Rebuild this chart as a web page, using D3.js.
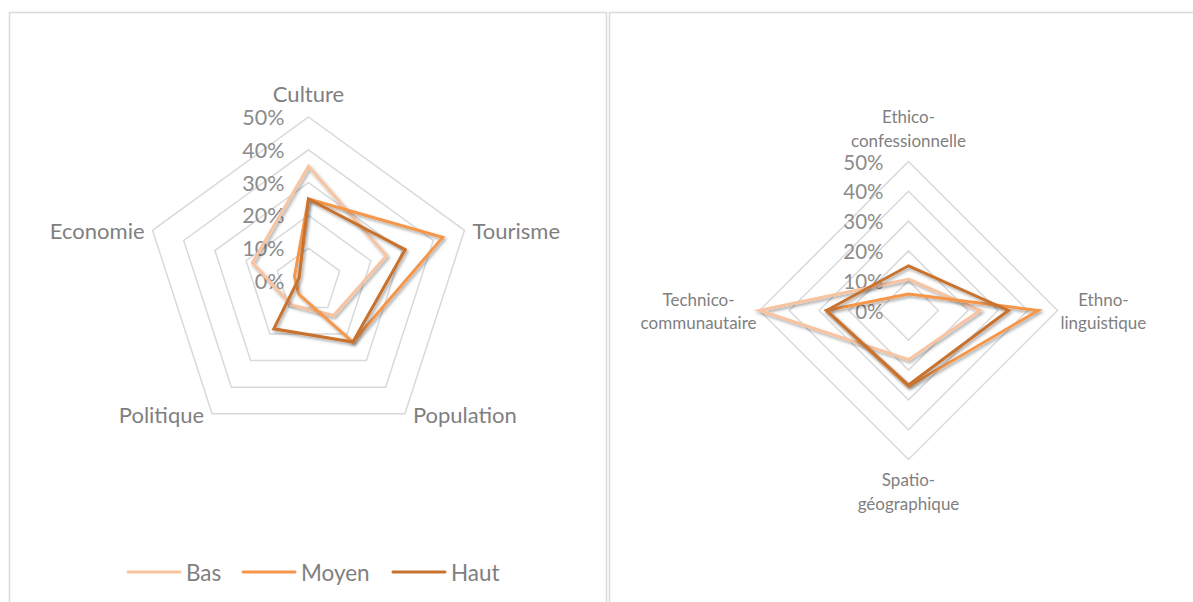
<!DOCTYPE html>
<html>
<head>
<meta charset="utf-8">
<script src="https://cdn.jsdelivr.net/npm/d3@7"></script>
<style>
  body { margin: 0; background: #fff; }
  svg { display: block; font-family: Lato, "Open Sans", sans-serif; }
</style>
</head>
<body>
<svg id="chart" width="1193" height="602"></svg>
<script>
// series names + colours
var levels = ["Bas", "Moyen", "Haut"];
var colors = ["#F8C3A0", "#F5964A", "#C8722F"];
var ticks = [0, 10, 20, 30, 40, 50];

// left radar
var leftAxes = [["Culture"], ["Tourisme"], ["Population"], ["Politique"], ["Economie"]];
var leftBas = [35, 25, 13, 9, 18];
var leftMoyen = [25, 43, 23, 5, 4.5];
var leftHaut = [25, 31, 23, 18, 3];

// right radar
var rightAxes = [["Ethico-", "confessionnelle"], ["Ethno-", "linguistique"], ["Spatio-", "géographique"], ["Technico-", "communautaire"]];
var rightBas = [10.5, 24, 16.5, 50];
var rightMoyen = [5.5, 43.5, 25.5, 27.5];
var rightHaut = [15, 33.5, 25, 27.5];

var svg = d3.select("#chart");

// shadow like the office chart
var defs = svg.append("defs");
defs.append("filter").attr("id", "shadow")
  .attr("x", "-20%").attr("y", "-20%").attr("width", "140%").attr("height", "140%")
  .append("feDropShadow")
  .attr("dx", 1.5).attr("dy", 2).attr("stdDeviation", 1.6)
  .attr("flood-color", "#000").attr("flood-opacity", 0.35);

// chart frames
svg.append("rect").attr("x", 9.5).attr("y", 12.5).attr("width", 597).attr("height", 600)
  .attr("fill", "none").attr("stroke", "#D9D9D9").attr("stroke-width", 1.5);
svg.append("rect").attr("x", 609.5).attr("y", 12.5).attr("width", 600).attr("height", 600)
  .attr("fill", "none").attr("stroke", "#D9D9D9").attr("stroke-width", 1.5);

function radar(opt) {
  var n = opt.axes.length;
  var g = svg.append("g").attr("transform", "translate(" + opt.cx + "," + opt.cy + ")");
  var r = d3.scaleLinear().domain([0, 50]).range([0, opt.R]);
  var angle = function(i) { return i * 2 * Math.PI / n; };
  var pt = function(i, v) { return [r(v) * Math.sin(angle(i)), -r(v) * Math.cos(angle(i))]; };

  // grid rings
  var ring = d3.lineRadial().angle(function(d, i) { return angle(i); }).radius(function(d) { return r(d); })
    .curve(d3.curveLinearClosed);
  g.selectAll(".ring").data(ticks.slice(1)).enter().append("path")
    .attr("d", function(t) { return ring(d3.range(n).map(function() { return t; })); })
    .attr("fill", "none").attr("stroke", "#D9D9D9").attr("stroke-width", 1.5);

  // tick labels
  g.selectAll(".tick").data(ticks).enter().append("text")
    .attr("x", -opt.tickOff).attr("y", function(t) { return -r(t); })
    .attr("text-anchor", "end").attr("dominant-baseline", "central")
    .attr("font-size", opt.tickSize).attr("fill", "#8C8C8C")
    .text(function(t) { return t + "%"; });

  // category labels (multi-line, centred block)
  opt.axes.forEach(function(lines, i) {
    var p = pt(i, 50);
    var s = Math.sin(angle(i)), c = Math.cos(angle(i));
    var lh = opt.labelSize * opt.lineH;
    var t = g.append("text").attr("font-size", opt.labelSize).attr("fill", "#7F7F7F")
      .attr("text-anchor", "middle").attr("dominant-baseline", "central");
    var spans = lines.map(function(l) { return t.append("tspan").text(l); });
    var w = d3.max(spans, function(sp) { return sp.node().getComputedTextLength(); });
    var x0, y0;
    if (Math.abs(s) < 0.01) {
      x0 = p[0];
      y0 = c > 0 ? p[1] - opt.gapTop - (lines.length - 1) * lh : p[1] + opt.gapBottom;
    } else {
      x0 = s > 0 ? p[0] + opt.gapH + w / 2 : p[0] - opt.gapH - w / 2;
      y0 = p[1] - (lines.length - 1) * lh / 2;
    }
    spans.forEach(function(sp, k) { sp.attr("x", x0).attr("y", y0 + k * lh); });
  });

  // series
  var line = d3.lineRadial().angle(function(d, i) { return angle(i); }).radius(function(d) { return r(d); })
    .curve(d3.curveLinearClosed);
  g.selectAll(".series").data(opt.series).enter().append("path")
    .attr("d", function(d) { return line(d); })
    .attr("fill", "none").attr("stroke", function(d, i) { return colors[i]; })
    .attr("stroke-width", 3).attr("stroke-linejoin", "miter")
    .attr("filter", "url(#shadow)");
}

radar({ cx: 308.5, cy: 281, R: 164, axes: leftAxes, series: [leftBas, leftMoyen, leftHaut],
  tickSize: 21.5, tickOff: 24, labelSize: 22, lineH: 1.2, gapTop: 24, gapBottom: 24, gapH: 8 });
radar({ cx: 908.5, cy: 310.5, R: 149, axes: rightAxes, series: [rightBas, rightMoyen, rightHaut],
  tickSize: 20.5, tickOff: 25, labelSize: 17, lineH: 1.4, gapTop: 22, gapBottom: 19.5, gapH: 3 });

// legend
var legend = svg.append("g").attr("transform", "translate(128,572)");
var lx = [0, 115, 265];
levels.forEach(function(name, i) {
  var g = legend.append("g").attr("transform", "translate(" + lx[i] + ",0)");
  g.append("line").attr("x1", 0).attr("x2", 52).attr("y1", 0).attr("y2", 0)
    .attr("stroke", colors[i]).attr("stroke-width", 3).attr("stroke-linecap", "round");
  g.append("text").attr("x", 58).attr("y", 0).attr("dominant-baseline", "central")
    .attr("font-size", 22.5).attr("fill", "#7F7F7F").text(name);
});
</script>
</body>
</html>
